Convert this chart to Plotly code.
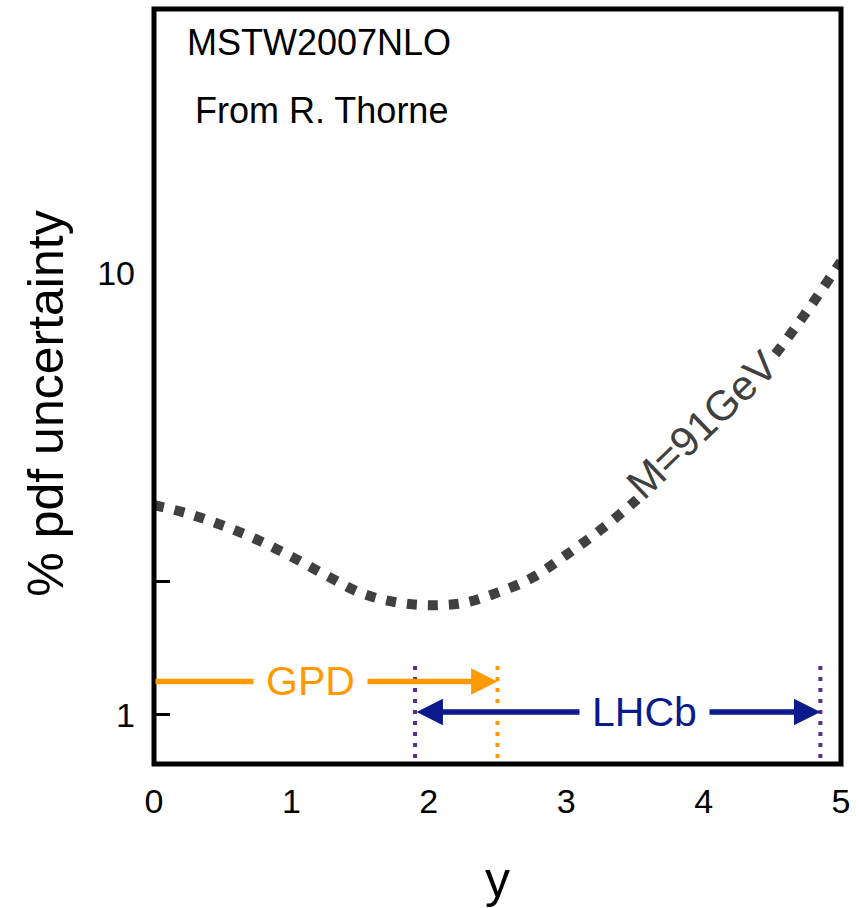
import numpy as np
import plotly.graph_objects as go

# MSTW2007NLO pdf uncertainty (%) versus rapidity for M = 91 GeV
rapidity = [0.0, 0.25, 0.5, 0.75, 1.0, 1.25, 1.5, 1.75, 2.0, 2.25, 2.5,
            2.75, 3.0, 3.25, 3.5, 3.75, 4.0, 4.25, 4.5, 4.75, 5.0]
pdf_uncertainty = [2.98, 2.85, 2.68, 2.49, 2.28, 2.07, 1.89, 1.80, 1.77, 1.79, 1.89,
                   2.04, 2.30, 2.62, 3.04, 3.59, 4.29, 5.21, 6.41, 8.16, 10.6]

x_ticks = [0, 1, 2, 3, 4, 5]
x_tick_labels = ["0", "1", "2", "3", "4", "5"]
y_ticks = [1, 2]
y_tick_labels = ["1", ""]
y_label_ticks = [10]
y_label_text = ["10"]

# detector rapidity coverage
gpd_range = [0.0, 2.5]
lhcb_range = [1.9, 4.85]
gpd_level = 1.19
lhcb_level = 1.015
edge_top = 1.29

GREY = "#404040"
ORANGE = "#ff9900"
NAVY = "#0a1a8c"
PURPLE = "#5b2a95"
FONT = "Liberation Sans, Arial, sans-serif"

y_range = [-0.111, 1.596]

fig = go.Figure()

fig.add_trace(go.Scatter(
    x=rapidity, y=pdf_uncertainty, mode="lines",
    line=dict(color=GREY, width=10, dash="10px,11px", shape="spline"),
    hoverinfo="skip", showlegend=False))

# acceptance edges
for edge, col in [(lhcb_range[0], PURPLE), (lhcb_range[1], PURPLE), (gpd_range[1], ORANGE)]:
    fig.add_trace(go.Scatter(
        x=[edge, edge], y=[0.6, edge_top], mode="lines",
        line=dict(color=col, width=4, dash="4px,7px"),
        hoverinfo="skip", showlegend=False))

annotations = []
# GPD arrow
annotations.append(dict(
    x=gpd_range[1], y=np.log10(gpd_level), ax=gpd_range[0], ay=np.log10(gpd_level),
    xref="x", yref="y", axref="x", ayref="y", text="", showarrow=True,
    arrowhead=2, arrowsize=0.96, arrowwidth=5.5, arrowcolor=ORANGE, standoff=0,
    startstandoff=0))
# LHCb double arrow
annotations.append(dict(
    x=lhcb_range[1], y=np.log10(lhcb_level), ax=lhcb_range[0], ay=np.log10(lhcb_level),
    xref="x", yref="y", axref="x", ayref="y", text="", showarrow=True,
    arrowhead=2, startarrowhead=2, arrowside="end+start",
    arrowsize=0.96, startarrowsize=0.96, arrowwidth=5.5, arrowcolor=NAVY,
    standoff=0, startstandoff=0))
# labels sitting on the arrows
annotations.append(dict(
    x=1.14, y=np.log10(gpd_level), xref="x", yref="y", text="GPD", showarrow=False,
    xanchor="center", yanchor="middle",
    font=dict(family=FONT, size=41, color=ORANGE), bgcolor="white", borderpad=12))
annotations.append(dict(
    x=3.57, y=np.log10(lhcb_level), xref="x", yref="y", text="LHCb", showarrow=False,
    xanchor="center", yanchor="middle",
    font=dict(family=FONT, size=41, color=NAVY), bgcolor="white", borderpad=12))
# curve label
annotations.append(dict(
    x=3.99, y=np.log10(4.53), xref="x", yref="y", text="M=91GeV", showarrow=False,
    xanchor="center", yanchor="middle",
    textangle=-44, font=dict(family=FONT, size=42, color=GREY), bgcolor="white",
    borderpad=3))
# header text
annotations.append(dict(
    x=0.240, y=0.956, xref="paper", yref="paper", text="MSTW2007NLO", showarrow=False,
    xanchor="center", yanchor="middle",
    font=dict(family=FONT, size=36, color="black")))
annotations.append(dict(
    x=0.244, y=0.866, xref="paper", yref="paper", text="From R. Thorne", showarrow=False,
    xanchor="center", yanchor="middle",
    font=dict(family=FONT, size=36, color="black")))
# axis titles
annotations.append(dict(
    x=-0.1575, y=0.477, xref="paper", yref="paper", text="% pdf uncertainty",
    xanchor="center", yanchor="middle",
    showarrow=False, textangle=-90, font=dict(family=FONT, size=50, color="black")))
annotations.append(dict(
    x=0.5, y=-0.1536, xref="paper", yref="paper", text="y",
    xanchor="center", yanchor="middle",
    showarrow=False, font=dict(family=FONT, size=50, color="black")))

fig.update_layout(
    width=859, height=908,
    margin=dict(l=154, r=13, t=9, b=144),
    paper_bgcolor="white", plot_bgcolor="white",
    showlegend=False,
    annotations=annotations,
    xaxis=dict(range=[0, 5], tickvals=x_ticks, ticktext=x_tick_labels, ticks="",
               showgrid=False, zeroline=False, showline=False,
               tickfont=dict(family=FONT, size=34, color="black"),
               ticklabelstandoff=14),
    yaxis=dict(type="log", range=y_range, tickvals=y_ticks, ticktext=y_tick_labels,
               ticks="inside", ticklen=16, tickwidth=2.5, tickcolor="black",
               showgrid=False, zeroline=False, showline=False,
               tickfont=dict(family=FONT, size=34, color="black"),
               ticklabelstandoff=18),
    yaxis2=dict(type="log", range=y_range, overlaying="y", side="left",
                tickvals=y_label_ticks, ticktext=y_label_text, ticks="",
                showgrid=False, zeroline=False, showline=False,
                tickfont=dict(family=FONT, size=34, color="black"),
                ticklabelstandoff=18),
    shapes=[dict(type="rect", xref="paper", yref="paper", x0=0, y0=0, x1=1, y1=1,
                 line=dict(color="black", width=5), layer="above")],
)

# empty trace so the overlay axis is drawn
fig.add_trace(go.Scatter(x=[None], y=[None], yaxis="y2", showlegend=False,
                         hoverinfo="skip"))

fig.write_html("out.html")
